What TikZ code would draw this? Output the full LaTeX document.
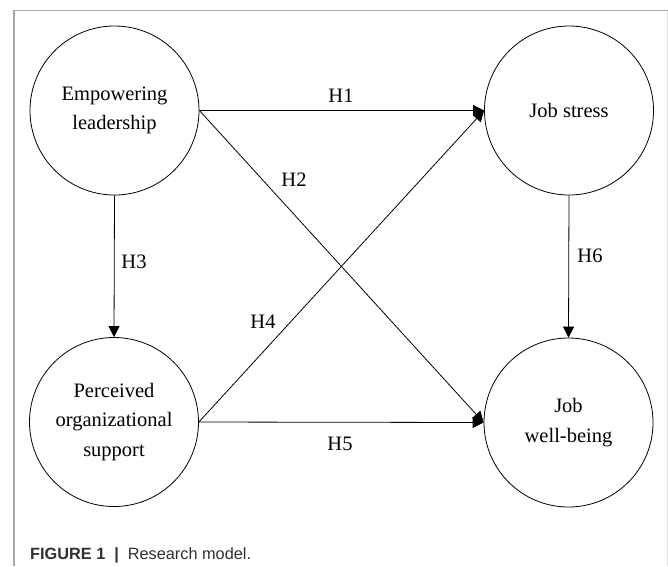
\documentclass[tikz,border=0pt]{standalone}
\usepackage{fontspec}
\setmainfont{Liberation Serif}
\newfontfamily\capfont{Liberation Sans}
\usetikzlibrary{arrows.meta}
\definecolor{framegray}{HTML}{A8A8A8}
\definecolor{capgray}{HTML}{303030}
\tikzset{
  construct/.style={circle, draw=black, line width=0.8pt, minimum size=169pt, inner sep=0pt,
    align=center, font=\fontsize{20.5}{29.5}\selectfont},
  arr/.style={draw=black, line width=0.8pt, -{Triangle[length=11pt,width=11pt]}},
  lbl/.style={inner sep=0pt, font=\fontsize{20.5}{24}\selectfont},
  framel/.style={draw=framegray, line width=1.3pt}
}
\begin{document}
\begin{tikzpicture}[x=1pt,y=-1pt]
\useasboundingbox (0,0) rectangle (668,566);
% frame
\coordinate (fbl) at (14,566);
\coordinate (ftl) at (14,10.7);
\coordinate (ftr) at (668,10.7);
\draw[framel] (fbl) -- (ftl) -- (ftr);
\coordinate (frt) at (667.6,10.7);
\coordinate (frb) at (667.6,566);
\draw[draw=framegray!35, line width=0.8pt] (frt) -- (frb);
% constructs
\node[construct] (EL) at (114.5,110.5) {Empowering\\leadership};
\node[construct] (JS) at (569,110.5) {Job stress};
\node[construct] (POS) at (114,422) {Perceived\\organizational\\support};
\node[construct] (JWB) at (568.5,422.5) {Job\\well-being};
% paths
\draw[arr] (EL.east) -- (JS.west);
\draw[arr] (EL.east) -- (JWB.west);
\draw[arr] (EL.south) -- (POS.north);
\draw[arr] (POS.east) -- (JS.west);
\draw[arr] (POS.east) -- (JWB.west);
\draw[arr] (JS.south) -- (JWB.north);
% labels
\node[lbl] (h1) at (341,96) {H1};
\node[lbl] (h2) at (294,180) {H2};
\node[lbl] (h3) at (134,262) {H3};
\node[lbl] (h4) at (263,322) {H4};
\node[lbl] (h5) at (340,444) {H5};
\node[lbl] (h6) at (590,256) {H6};
% caption
\node[anchor=base west, inner sep=0pt, text=capgray, font=\capfont\fontsize{16.3}{19}\selectfont] (cap) at (30,559)
  {\textbf{FIGURE 1}\hspace{0.55em}\textbf{|}\hspace{0.55em}Research model.};
\end{tikzpicture}
\end{document}
